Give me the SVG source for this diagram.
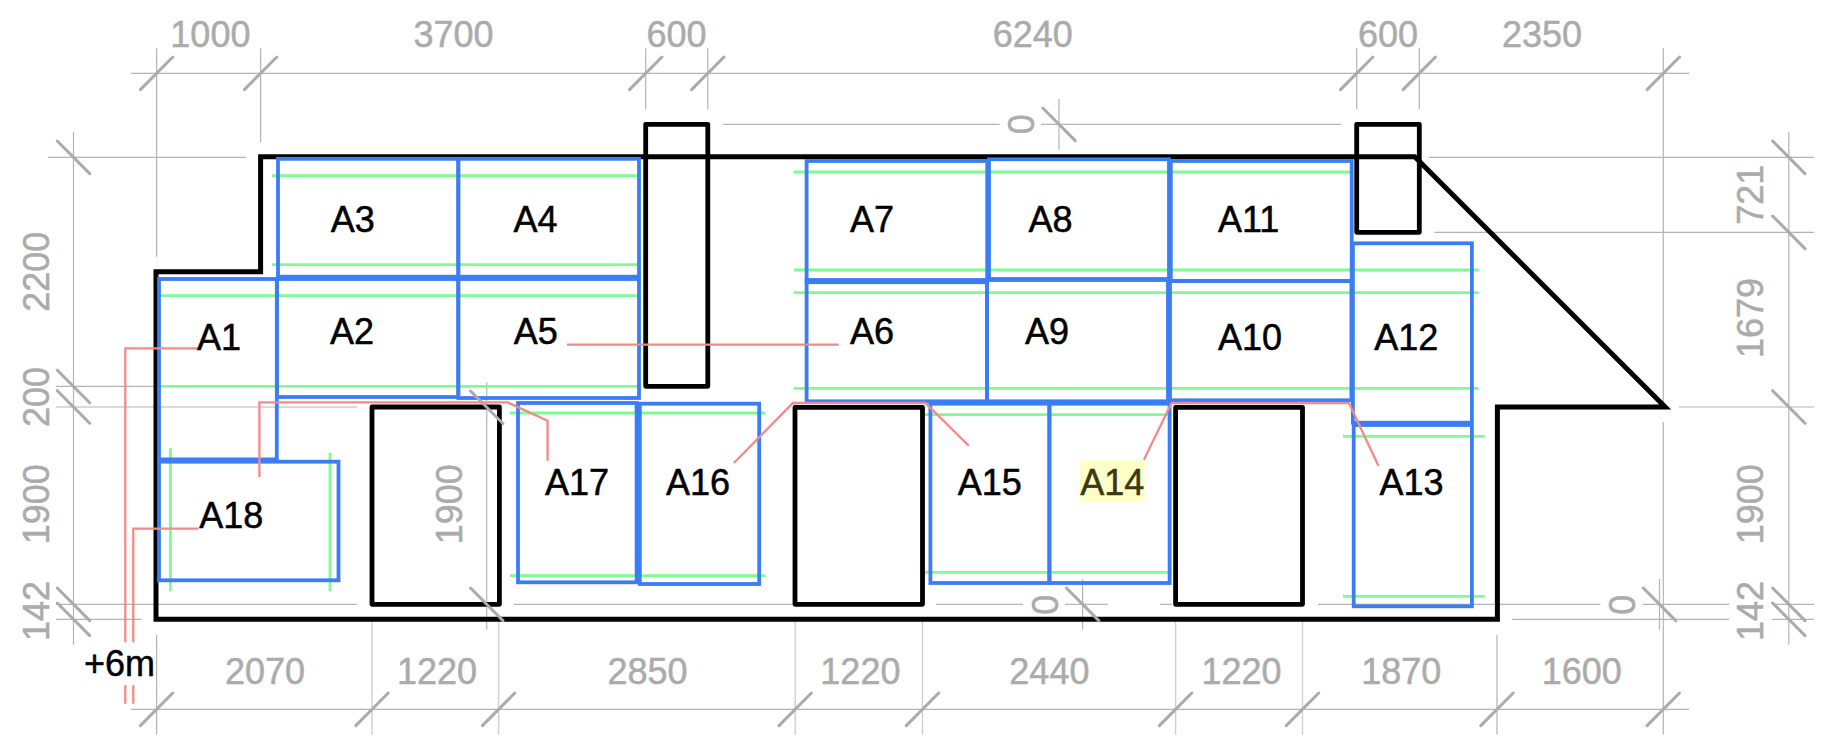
<svg xmlns="http://www.w3.org/2000/svg" width="1838" height="746" viewBox="0 0 1838 746">
<style>
text{font-family:"Liberation Sans",Arial,sans-serif;font-size:36px}
.l{fill:#000;stroke:#000;stroke-width:.5;text-anchor:middle}
.d{fill:#ababab;stroke:#ababab;stroke-width:.5;text-anchor:middle}
.e{stroke:#b4b4b4;stroke-width:1.2;fill:none}
.f{stroke:#cfcfcf;stroke-width:1.4;fill:none}
.t{stroke:#ababab;stroke-width:3;stroke-linecap:round;fill:none}
.b{stroke:#3b7df5;stroke-width:3.8;fill:none}
.g{stroke:#7dfc92;stroke-width:2.8;fill:none}
.k{stroke:#000;stroke-width:4.8;fill:none;stroke-linejoin:round}
.w{stroke:#000;stroke-width:5;fill:none;stroke-linejoin:miter}
.r{stroke:#f28a8a;stroke-width:2.3;fill:none}
</style>
<rect width="1838" height="746" fill="#fff"/>
<g id="dimension-lines">
<path class="e" d="M131 73.3H1689M131 709.3H1689M48 157.3H246M56 386.3H160M56 407H357M56 604.3H357M56 619.3H141.5M514 604.3H795M936 604.3H1023M1065 604.3H1108M1160 604.3H1172M1318 604.3H1600.4M1642.4 604.3H1729M1772 604.3H1814M1512.3 619.3H1729M1772 619.3H1814M1429 157.3H1814M1434.5 232.3H1814M1678.6 407H1814M723 124.3H999.6M1041 124.3H1341.4"/>
<path class="e" d="M73.5 132V644.7M1788.8 132V644.7M156.6 48.3V256.7M260.6 48.3V142.3M645.7 48.3V109.3M707.8 48.3V109.3M1356.7 48.3V109.3M1419.3 48.3V109.3M1663.3 48.3V406M1663.3 422V734.7M1059 99V149.7M486.7 382.3V629.7M1082.6 579V629.7M1659.5 579V629.7M156.6 634.7V734.7M1497 634.7V734.7"/>
<path class="f" d="M372 619.7V734.7M498.6 619.7V734.7M795.2 619.7V734.7M922.5 619.7V734.7M1175.6 619.7V734.7M1302.5 619.7V734.7"/>
</g>
<g id="outline"><path class="w" d="M156 619.3V271.7H260.6V156.8H1414.7L1665.2 407H1497.4V619.3Z"/></g>
<g id="green-lines">
<path class="g" d="M272 175.7H638M272 264.7H638M160 295.7H638M158 386.3H638M794 172H1352.5M794 270H1478.8M794 292.7H1478.8M794 388.3H1478.8M510 413H765.5M510 575.7H765.5M924.5 414.7H1171.6M924.5 572.3H1171.6M1343 436.3H1484.9M1343 596.3H1484.9M170.4 448.3V591.3M330 452.7V591.3"/>
</g>
<g id="A1"><rect class="b" x="159" y="279" width="117.8" height="180.4"/></g>
<g id="A2"><rect class="b" x="277" y="279" width="181.3" height="118"/></g>
<g id="A3"><rect class="b" x="278" y="158.8" width="180.3" height="117.9"/></g>
<g id="A4"><rect class="b" x="458.3" y="158.8" width="180.7" height="117.9"/></g>
<g id="A5"><rect class="b" x="458.3" y="279" width="180.7" height="119"/></g>
<g id="A6"><rect class="b" x="806.6" y="280" width="180.4" height="121.3"/></g>
<g id="A7"><rect class="b" x="806.6" y="161" width="180.6" height="121.2"/></g>
<g id="A8"><rect class="b" x="989" y="159.3" width="180" height="119.7"/></g>
<g id="A9"><rect class="b" x="987" y="280" width="181" height="121.3"/></g>
<g id="A10"><rect class="b" x="1170" y="281" width="181.4" height="119.3"/></g>
<g id="A11"><rect class="b" x="1170.8" y="161" width="180.9" height="120"/></g>
<g id="A12"><rect class="b" x="1352.9" y="243.3" width="119" height="179.4"/></g>
<g id="A13"><rect class="b" x="1353.7" y="425" width="118.2" height="181.3"/></g>
<g id="A14"><rect class="b" x="1049.4" y="403.7" width="120.2" height="179.3"/></g>
<g id="A15"><rect class="b" x="930.4" y="403.7" width="119" height="179.3"/></g>
<g id="A16"><rect class="b" x="639.8" y="403.7" width="119.4" height="180.3"/></g>
<g id="A17"><rect class="b" x="518" y="403" width="118.6" height="179.3"/></g>
<g id="A18"><rect class="b" x="159" y="461.7" width="179.5" height="118.6"/></g>
<g id="chimney-1"><rect class="k" x="645.7" y="124.3" width="62.1" height="262"/></g>
<g id="chimney-2"><rect class="k" x="1356.7" y="124.3" width="62.6" height="108"/></g>
<g id="opening-1"><rect class="k" x="372" y="407" width="127.4" height="197.3"/></g>
<g id="opening-2"><rect class="k" x="795" y="407.3" width="127.5" height="197"/></g>
<g id="opening-3"><rect class="k" x="1175.6" y="407.3" width="126.9" height="197"/></g>
<g id="dimension-ticks">
<path class="t" d="M140.4 89.6L172.8 57M244.4 89.6L276.8 57M629.5 89.6L661.9 57M691.6 89.6L724 57M1340.5 89.6L1372.9 57M1403.1 89.6L1435.5 57M1647.1 89.6L1679.5 57"/>
<path class="t" d="M140.4 725.6L172.8 693M355.8 725.6L388.2 693M482.4 725.6L514.8 693M779 725.6L811.4 693M906.3 725.6L938.7 693M1159.4 725.6L1191.8 693M1286.3 725.6L1318.7 693M1480.8 725.6L1513.2 693M1647.1 725.6L1679.5 693"/>
<path class="t" d="M57.3 141L89.7 173.6M57.3 370.2L89.7 402.8M57.3 390.7L89.7 423.3M57.3 588L89.7 620.6M57.3 603L89.7 635.6M1772.6 141L1805 173.6M1772.6 216L1805 248.6M1772.6 390.7L1805 423.3M1772.6 588L1805 620.6M1772.6 603L1805 635.6"/>
<path class="t" d="M470.5 391L502.9 423.5M470.5 588L502.9 620.6M1042.8 108L1075.2 140.6M1066.4 588L1098.8 620.6M1643.3 588L1675.7 620.6"/>
</g>
<g id="connectors">
<path class="r" d="M199 348.3H125.3V642.3M125.3 685.3V703.7"/>
<path class="r" d="M198.5 528.7H133.3V642.3M133.3 685.3V703.7"/>
<path class="r" d="M567 344.7H838.7"/>
<path class="r" d="M547.6 460.7V420.7L507.3 402.3H259.4V477"/>
<path class="r" d="M733.9 463L792.8 403H925.3L968.8 445.7"/>
<path class="r" d="M1143.9 459.7L1171.6 403H1349L1378.4 465.7"/>
</g>
<g id="labels">
<rect x="1079.5" y="460.3" width="65.2" height="42" fill="#ffffc8"/>
<text class="l" x="219" y="350">A1</text>
<text class="l" x="352" y="344.3">A2</text>
<text class="l" x="352.7" y="232.3">A3</text>
<text class="l" x="535.4" y="232.3">A4</text>
<text class="l" x="535.8" y="344.3">A5</text>
<text class="l" x="871.9" y="344.3">A6</text>
<text class="l" x="871.9" y="232.3">A7</text>
<text class="l" x="1050.4" y="232.3">A8</text>
<text class="l" x="1047" y="344.3">A9</text>
<text class="l" x="1250" y="350">A10</text>
<text class="l" x="1248.6" y="232.3">A11</text>
<text class="l" x="1406.3" y="350">A12</text>
<text class="l" x="1411.6" y="494.7">A13</text>
<text class="l" x="1112.3" y="494.7" style="fill:#3a3a12;stroke:#3a3a12">A14</text>
<text class="l" x="989.7" y="494.7">A15</text>
<text class="l" x="698" y="494.7">A16</text>
<text class="l" x="577" y="494.7">A17</text>
<text class="l" x="231.3" y="528">A18</text>
<text class="l" x="119.6" y="676.3">+6m</text>
</g>
<g id="dimension-text">
<text class="d" x="210.4" y="47.3">1000</text>
<text class="d" x="453.5" y="47.3">3700</text>
<text class="d" x="676.5" y="47.3">600</text>
<text class="d" x="1032.8" y="47.3">6240</text>
<text class="d" x="1388" y="47.3">600</text>
<text class="d" x="1542" y="47.3">2350</text>
<text class="d" x="265" y="684">2070</text>
<text class="d" x="437" y="684">1220</text>
<text class="d" x="647.6" y="684">2850</text>
<text class="d" x="860.4" y="684">1220</text>
<text class="d" x="1049.4" y="684">2440</text>
<text class="d" x="1241.6" y="684">1220</text>
<text class="d" x="1401.3" y="684">1870</text>
<text class="d" x="1581.7" y="684">1600</text>
<text class="d" transform="translate(49 271.7) rotate(-90)">2200</text>
<text class="d" transform="translate(49 397) rotate(-90)">200</text>
<text class="d" transform="translate(49 504.3) rotate(-90)">1900</text>
<text class="d" transform="translate(49 611) rotate(-90)">142</text>
<text class="d" transform="translate(461.8 504.3) rotate(-90)">1900</text>
<text class="d" transform="translate(1763.3 194.7) rotate(-90)">721</text>
<text class="d" transform="translate(1763.3 318) rotate(-90)">1679</text>
<text class="d" transform="translate(1763.3 504.3) rotate(-90)">1900</text>
<text class="d" transform="translate(1763.3 611) rotate(-90)">142</text>
<text class="d" transform="translate(1034 124.3) rotate(-90)">0</text>
<text class="d" transform="translate(1058 604.7) rotate(-90)">0</text>
<text class="d" transform="translate(1634.7 604.7) rotate(-90)">0</text>
</g>
</svg>
